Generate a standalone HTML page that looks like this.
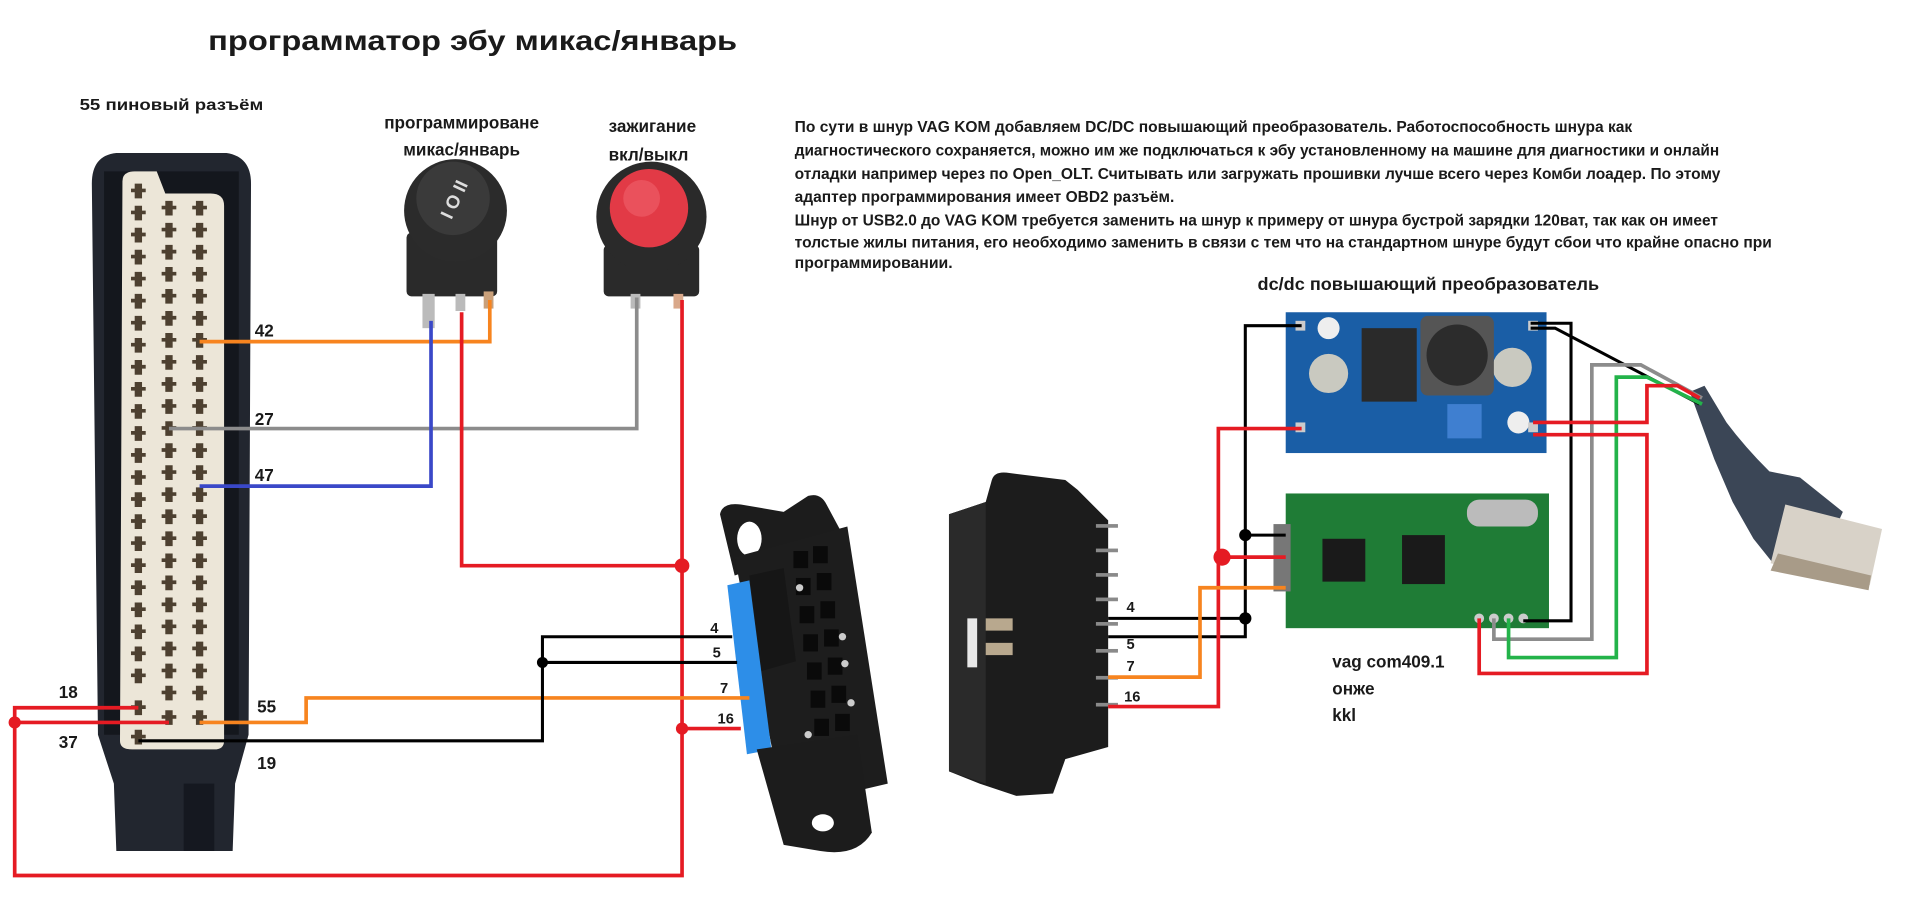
<!DOCTYPE html>
<html><head><meta charset="utf-8"><style>
html,body{margin:0;padding:0;background:#fff;}
svg{display:block;}
text{font-family:"Liberation Sans","Noto Sans CJK SC",sans-serif;fill:#1a1a1a;font-weight:bold;}
</style></head><body>
<svg width="1920" height="900" viewBox="0 0 1568 735" xmlns="http://www.w3.org/2000/svg">
<rect width="1568" height="735" fill="#fff"/>
<text x="170" y="41" font-size="23" textLength="432" lengthAdjust="spacingAndGlyphs">программатор эбу микас/январь</text>
<text x="65" y="90" font-size="13" textLength="150" lengthAdjust="spacingAndGlyphs">55 пиновый разъём</text>
<text x="377" y="105" font-size="14" text-anchor="middle">программироване</text>
<text x="377" y="127" font-size="14" text-anchor="middle">микас/январь</text>
<text x="497" y="108" font-size="14">зажигание</text>
<text x="497" y="131" font-size="14">вкл/выкл</text>
<g font-size="12.5">
<text x="649" y="108" textLength="684" lengthAdjust="spacingAndGlyphs">По сути в шнур VAG KOM добавляем DC/DC повышающий преобразователь. Работоспособность шнура как</text>
<text x="649" y="127" textLength="755" lengthAdjust="spacingAndGlyphs">диагностического сохраняется, можно им же подключаться к эбу установленному на машине для диагностики и онлайн</text>
<text x="649" y="146" textLength="756" lengthAdjust="spacingAndGlyphs">отладки например через по Open_OLT. Считывать или загружать прошивки лучше всего через Комби лоадер. По этому</text>
<text x="649" y="165" textLength="310" lengthAdjust="spacingAndGlyphs">адаптер программирования имеет OBD2 разъём.</text>
<text x="649" y="184" textLength="754" lengthAdjust="spacingAndGlyphs">Шнур от USB2.0 до VAG KOM требуется заменить на шнур к примеру от шнура бустрой зарядки 120ват, так как он имеет</text>
<text x="649" y="202" textLength="798" lengthAdjust="spacingAndGlyphs">толстые жилы питания, его необходимо заменить в связи с тем что на стандартном шнуре будут сбои что крайне опасно при</text>
<text x="649" y="219" textLength="129" lengthAdjust="spacingAndGlyphs">программировании.</text>
</g>
<text x="1027" y="237" font-size="14" textLength="279" lengthAdjust="spacingAndGlyphs">dc/dc повышающий преобразователь</text>

<!-- ECU connector -->
<path d="M95 125 L185 125 Q205 128 205 150 L203 600 L192 640 L190 695 L95 695 L93 640 L80 600 L75 150 Q75 127 95 125Z" fill="#22262f"/>
<path d="M85 140 L195 140 L195 600 L85 600Z" fill="#14171d"/>
<path d="M100 148 Q100 140 110 140 L128 140 L135 158 L172 158 Q183 158 183 168 L183 605 Q183 612 175 612 L108 612 Q98 612 98 605Z" fill="#ece6d8"/>
<path d="M150 640 L175 640 L175 695 L150 695Z" fill="#151820"/>
<g fill="#4d4030">
<path id="pc" d="M110 150h6v12h-6zM107 154h12v3h-12z
M110 168h6v12h-6zM107 172h12v3h-12z
M110 186h6v12h-6zM107 190h12v3h-12z
M110 204h6v12h-6zM107 208h12v3h-12z
M110 222h6v12h-6zM107 226h12v3h-12z
M110 240h6v12h-6zM107 244h12v3h-12z
M110 258h6v12h-6zM107 262h12v3h-12z
M110 276h6v12h-6zM107 280h12v3h-12z
M110 294h6v12h-6zM107 298h12v3h-12z
M110 312h6v12h-6zM107 316h12v3h-12z
M110 330h6v12h-6zM107 334h12v3h-12z
M110 348h6v12h-6zM107 352h12v3h-12z
M110 366h6v12h-6zM107 370h12v3h-12z
M110 384h6v12h-6zM107 388h12v3h-12z
M110 402h6v12h-6zM107 406h12v3h-12z
M110 420h6v12h-6zM107 424h12v3h-12z
M110 438h6v12h-6zM107 442h12v3h-12z
M110 456h6v12h-6zM107 460h12v3h-12z
M110 474h6v12h-6zM107 478h12v3h-12z
M110 492h6v12h-6zM107 496h12v3h-12z
M110 510h6v12h-6zM107 514h12v3h-12z
M110 528h6v12h-6zM107 532h12v3h-12z
M110 546h6v12h-6zM107 550h12v3h-12z
M110 572h6v12h-6zM107 576h12v3h-12z
M110 596h6v12h-6zM107 600h12v3h-12z"/>
<path transform="translate(25,14)" d="M110 150h6v12h-6zM107 154h12v3h-12z
M110 168h6v12h-6zM107 172h12v3h-12z
M110 186h6v12h-6zM107 190h12v3h-12z
M110 204h6v12h-6zM107 208h12v3h-12z
M110 222h6v12h-6zM107 226h12v3h-12z
M110 240h6v12h-6zM107 244h12v3h-12z
M110 258h6v12h-6zM107 262h12v3h-12z
M110 276h6v12h-6zM107 280h12v3h-12z
M110 294h6v12h-6zM107 298h12v3h-12z
M110 312h6v12h-6zM107 316h12v3h-12z
M110 330h6v12h-6zM107 334h12v3h-12z
M110 348h6v12h-6zM107 352h12v3h-12z
M110 366h6v12h-6zM107 370h12v3h-12z
M110 384h6v12h-6zM107 388h12v3h-12z
M110 402h6v12h-6zM107 406h12v3h-12z
M110 420h6v12h-6zM107 424h12v3h-12z
M110 438h6v12h-6zM107 442h12v3h-12z
M110 456h6v12h-6zM107 460h12v3h-12z
M110 474h6v12h-6zM107 478h12v3h-12z
M110 492h6v12h-6zM107 496h12v3h-12z
M110 510h6v12h-6zM107 514h12v3h-12z
M110 528h6v12h-6zM107 532h12v3h-12z
M110 546h6v12h-6zM107 550h12v3h-12z
M110 566h6v12h-6zM107 570h12v3h-12z"/>
<path transform="translate(50,14)" d="M110 150h6v12h-6zM107 154h12v3h-12z
M110 168h6v12h-6zM107 172h12v3h-12z
M110 186h6v12h-6zM107 190h12v3h-12z
M110 204h6v12h-6zM107 208h12v3h-12z
M110 222h6v12h-6zM107 226h12v3h-12z
M110 240h6v12h-6zM107 244h12v3h-12z
M110 258h6v12h-6zM107 262h12v3h-12z
M110 276h6v12h-6zM107 280h12v3h-12z
M110 294h6v12h-6zM107 298h12v3h-12z
M110 312h6v12h-6zM107 316h12v3h-12z
M110 330h6v12h-6zM107 334h12v3h-12z
M110 348h6v12h-6zM107 352h12v3h-12z
M110 366h6v12h-6zM107 370h12v3h-12z
M110 384h6v12h-6zM107 388h12v3h-12z
M110 402h6v12h-6zM107 406h12v3h-12z
M110 420h6v12h-6zM107 424h12v3h-12z
M110 438h6v12h-6zM107 442h12v3h-12z
M110 456h6v12h-6zM107 460h12v3h-12z
M110 474h6v12h-6zM107 478h12v3h-12z
M110 492h6v12h-6zM107 496h12v3h-12z
M110 510h6v12h-6zM107 514h12v3h-12z
M110 528h6v12h-6zM107 532h12v3h-12z
M110 546h6v12h-6zM107 550h12v3h-12z
M110 566h6v12h-6zM107 570h12v3h-12z"/>
</g>

<!-- switch 1 -->
<rect x="332" y="190" width="74" height="52" rx="4" fill="#2a2a2a"/>
<rect x="345" y="240" width="10" height="28" fill="#bbb"/>
<rect x="372" y="240" width="8" height="14" fill="#bbb"/>
<rect x="395" y="238" width="8" height="14" fill="#c9a07a"/>
<circle cx="372" cy="172" r="42" fill="#2b2b2b"/>
<circle cx="370" cy="162" r="30" fill="#3a3a3a"/>
<text x="371" y="168" font-size="15" style="fill:#ddd" text-anchor="middle" transform="rotate(-65 371 163)">I O II</text>
<!-- switch 2 -->
<rect x="493" y="200" width="78" height="42" rx="4" fill="#2a2a2a"/>
<rect x="515" y="240" width="8" height="12" fill="#bbb"/>
<rect x="550" y="240" width="8" height="12" fill="#d9a88a"/>
<circle cx="532" cy="177" r="45" fill="#2a2a2a"/>
<circle cx="530" cy="170" r="32" fill="#e23a46"/>
<circle cx="524" cy="162" r="15" fill="#f0606a" opacity=".6"/>

<!-- left OBD female -->
<path d="M588 420 Q590 410 605 412 L640 418 L660 405 Q670 402 675 412 L690 440 L600 470Z" fill="#1c1c1c"/>
<ellipse cx="612" cy="440" rx="10" ry="14" fill="#fff"/>
<path d="M600 455 L692 430 L725 640 L640 660 Z" fill="#1d1d1d"/>
<path d="M594 478 L612 474 L630 612 L610 616Z" fill="#2d8ee8"/>
<path d="M612 470 L640 464 L650 540 L622 548Z" fill="#161616"/>
<g fill="#0a0a0a"><rect x="648" y="450" width="12" height="14"/><rect x="664" y="446" width="12" height="14"/>
<rect x="650" y="472" width="12" height="14"/><rect x="667" y="468" width="12" height="14"/>
<rect x="653" y="495" width="12" height="14"/><rect x="670" y="491" width="12" height="14"/>
<rect x="656" y="518" width="12" height="14"/><rect x="673" y="514" width="12" height="14"/>
<rect x="659" y="541" width="12" height="14"/><rect x="676" y="537" width="12" height="14"/>
<rect x="662" y="564" width="12" height="14"/><rect x="679" y="560" width="12" height="14"/>
<rect x="665" y="587" width="12" height="14"/><rect x="682" y="583" width="12" height="14"/></g>
<g fill="#ccc"><circle cx="653" cy="480" r="3"/><circle cx="688" cy="520" r="3"/><circle cx="690" cy="542" r="3"/><circle cx="695" cy="574" r="3"/><circle cx="660" cy="600" r="3"/></g>
<path d="M618 612 L700 600 L712 680 Q700 700 670 695 L640 690 Z" fill="#1c1c1c"/>
<ellipse cx="672" cy="672" rx="9" ry="7" fill="#fff"/>

<!-- right OBD male -->
<path d="M775 420 L805 410 L810 392 Q812 385 822 386 L870 392 L880 400 L905 425 L905 610 L870 620 L860 648 L830 650 L800 640 L775 630Z" fill="#1c1c1c"/>
<path d="M775 420 L805 410 L805 640 L775 630Z" fill="#2a2a2a"/>
<rect x="790" y="505" width="8" height="40" fill="#e8e8e8"/>
<rect x="805" y="505" width="22" height="10" fill="#b8a88e"/>
<rect x="805" y="525" width="22" height="10" fill="#b8a88e"/>
<g fill="#8a8a8a"><rect x="895" y="428" width="18" height="3"/><rect x="895" y="448" width="18" height="3"/><rect x="895" y="468" width="18" height="3"/><rect x="895" y="488" width="18" height="3"/><rect x="895" y="508" width="18" height="3"/><rect x="895" y="530" width="18" height="3"/><rect x="895" y="552" width="18" height="3"/><rect x="895" y="574" width="18" height="3"/></g>

<!-- DC board -->
<rect x="1050" y="255" width="213" height="115" fill="#1a5ea6"/>
<circle cx="1085" cy="305" r="16" fill="#c9c9c0"/>
<circle cx="1235" cy="300" r="16" fill="#c9c9c0"/>
<rect x="1112" y="268" width="45" height="60" fill="#2a2a2a"/>
<rect x="1160" y="258" width="60" height="65" rx="6" fill="#555"/>
<circle cx="1190" cy="290" r="25" fill="#2c2c2c"/>
<rect x="1182" y="330" width="28" height="28" fill="#3f7fd0"/>
<circle cx="1085" cy="268" r="9" fill="#eee"/>
<circle cx="1240" cy="345" r="9" fill="#eee"/>
<rect x="1058" y="262" width="8" height="8" fill="#ccc"/>
<rect x="1058" y="345" width="8" height="8" fill="#ccc"/>
<rect x="1248" y="262" width="8" height="8" fill="#ccc"/>
<rect x="1248" y="345" width="8" height="8" fill="#ccc"/>

<!-- KKL board -->
<rect x="1050" y="403" width="215" height="110" fill="#1f7c36"/>
<rect x="1040" y="428" width="14" height="55" fill="#777"/>
<rect x="1080" y="440" width="35" height="35" fill="#1a1a1a"/>
<rect x="1145" y="437" width="35" height="40" fill="#1a1a1a"/>
<rect x="1198" y="408" width="58" height="22" rx="10" fill="#bbb"/>
<g fill="#ccc"><circle cx="1208" cy="505" r="4"/><circle cx="1220" cy="505" r="4"/><circle cx="1232" cy="505" r="4"/><circle cx="1244" cy="505" r="4"/></g>

<!-- USB cable & plug -->
<path d="M1380 320 L1392 315 L1410 345 Q1425 365 1445 385 L1470 390 L1505 418 L1495 440 L1470 455 L1448 460 L1432 440 L1415 410 L1400 375Z" fill="#3b4656"/>
<path d="M1458 412 L1537 432 L1527 478 L1446 460Z" fill="#d8d2c8"/>
<path d="M1452 452 L1528 470 L1526 482 L1446 466Z" fill="#a89b88"/>

<!-- wires left -->
<g fill="none" stroke-width="3" stroke-linejoin="miter">
<path d="M163 279 H400 V245" stroke="#f7841f"/>
<path d="M138 350 H520 V243" stroke="#8c8c8c"/>
<path d="M163 397 H352 V262" stroke="#3a48c8"/>
<path d="M377 255 V462 H557" stroke="#e51b23"/>
<path d="M557 245 V715 H12 V578 H113" stroke="#e51b23"/>
<path d="M12 590 H138" stroke="#e51b23"/>
<path d="M557 595 H605" stroke="#e51b23"/>
<path d="M163 590 H250 V570 H612" stroke="#f7841f"/>
<path d="M113 605 H443 V520 H598" stroke="#000" stroke-width="2.5"/>
<path d="M443 541 H602" stroke="#000" stroke-width="2.5"/>
<path d="M905 505 H1017" stroke="#000" stroke-width="2.5"/>
<path d="M905 520 H1017 V266 H1063" stroke="#000" stroke-width="2.5"/>
<path d="M1017 437 H1050" stroke="#000" stroke-width="2.5"/>
<path d="M1063 350 H995 V577 H905" stroke="#e51b23"/>
<path d="M995 455 H1050" stroke="#e51b23"/>
<path d="M1050 480 H980 V553 H905" stroke="#f7841f"/>
<path d="M1250 264 H1283 V507 H1244" stroke="#000" stroke-width="2.5"/>
<path d="M1250 268 H1270 L1388 330" stroke="#000" stroke-width="2.5"/>
<path d="M1220 505 V522 H1300 V298 H1340 L1390 325" stroke="#8c8c8c"/>
<path d="M1232 505 V537 H1320 V308 H1345 L1390 330" stroke="#23b34a"/>
<path d="M1252 345 H1345 V315 H1370 L1388 325" stroke="#e51b23"/>
<path d="M1252 355 H1345 V550 H1208 V505" stroke="#e51b23"/>
</g>
<g fill="#e51b23"><circle cx="557" cy="462" r="6"/><circle cx="557" cy="595" r="5"/><circle cx="12" cy="590" r="5"/><circle cx="998" cy="455" r="7"/></g>
<g fill="#000"><circle cx="443" cy="541" r="4.5"/><circle cx="1017" cy="437" r="5"/><circle cx="1017" cy="505" r="5"/></g>

<g font-size="14">
<text x="208" y="275">42</text><text x="208" y="347">27</text><text x="208" y="393">47</text>
<text x="48" y="570">18</text><text x="48" y="611">37</text><text x="210" y="582">55</text><text x="210" y="628">19</text>
</g>
<g font-size="12">
<text x="580" y="517">4</text><text x="582" y="537">5</text><text x="588" y="566">7</text><text x="586" y="591">16</text>
<text x="920" y="500">4</text><text x="920" y="530">5</text><text x="920" y="548">7</text><text x="918" y="573">16</text>
</g>
<g font-size="14"><text x="1088" y="545">vag com409.1</text><text x="1088" y="567">онже</text><text x="1088" y="589">kkl</text></g>
</svg>
</body></html>
